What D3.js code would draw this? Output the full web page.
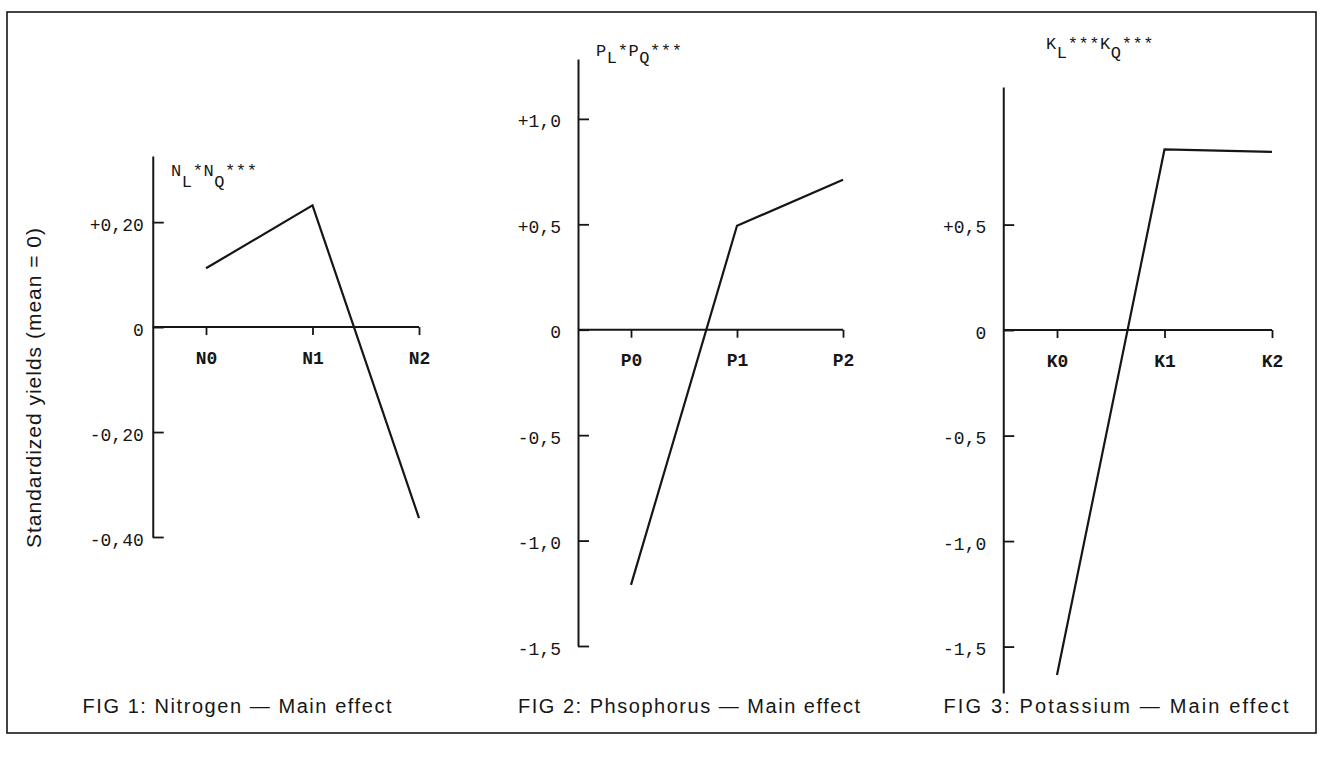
<!DOCTYPE html>
<html>
<head>
<meta charset="utf-8">
<script src="https://cdn.jsdelivr.net/npm/d3@7"></script>
<style>
  html, body { margin: 0; padding: 0; background: #fff; }
  svg { display: block; }
  .tick text { font-family: "Liberation Mono", "DejaVu Sans Mono", monospace; }
</style>
</head>
<body>
<svg id="chart" width="1323" height="758"></svg>
<script>
// ---------- data ----------
const nCategories = ["N0", "N1", "N2"];
const nValues = [0.112, 0.232, -0.364];
const nTickValues = [0.2, 0, -0.2, -0.4];
const nTickLabels = ["+0,20", "0", "-0,20", "-0,40"];

const pCategories = ["P0", "P1", "P2"];
const pValues = [-1.21, 0.493, 0.711];
const pTickValues = [1.0, 0.5, 0, -0.5, -1.0, -1.5];
const pTickLabels = ["+1,0", "+0,5", "0", "-0,5", "-1,0", "-1,5"];

const kCategories = ["K0", "K1", "K2"];
const kValues = [-1.635, 0.856, 0.845];
const kTickValues = [0.5, 0, -0.5, -1.0, -1.5];
const kTickLabels = ["+0,5", "0", "-0,5", "-1,0", "-1,5"];

const titles = ["FIG 1: Nitrogen \u2014 Main effect",
                "FIG 2: Phsophorus \u2014 Main effect",
                "FIG 3: Potassium \u2014 Main effect"];
const yAxisTitle = "Standardized yields (mean = 0)";
// significance annotations: [main, sub, mark, main, sub, mark]
const nNote = ["N", "L", "*", "N", "Q", "***"];
const pNote = ["P", "L", "*", "P", "Q", "***"];
const kNote = ["K", "L", "***", "K", "Q", "***"];

// ---------- layout ----------
const panels = [
  { cats: nCategories, vals: nValues, ticks: nTickValues, labels: nTickLabels, note: nNote,
    yDomain: [-0.40, 0.326], yRange: [537, 156], xFirst: 206, xLast: 419, labelPad: 9,
    noteX: 171, noteY: 176, subShift: 11, title: titles[0], titleX: 237, titleLen: 309 },
  { cats: pCategories, vals: pValues, ticks: pTickValues, labels: pTickLabels, note: pNote,
    yDomain: [-1.5, 1.284], yRange: [646, 59], xFirst: 631, xLast: 843, labelPad: 17,
    noteX: 596, noteY: 56, subShift: 7, title: titles[1], titleX: 689, titleLen: 342 },
  { cats: kCategories, vals: kValues, ticks: kTickValues, labels: kTickLabels, note: kNote,
    yDomain: [-1.72, 1.152], yRange: [693, 87], xFirst: 1057, xLast: 1272, labelPad: 17,
    noteX: 1046, noteY: 49, subShift: 9, title: titles[2], titleX: 1116, titleLen: 345 }
];

const ink = "#161616";
const svg = d3.select("#chart");

// frame
svg.append("rect")
  .attr("x", 7).attr("y", 12).attr("width", 1309).attr("height", 721)
  .attr("fill", "none").attr("stroke", ink).attr("stroke-width", 1.6);

// y-axis title
svg.append("text")
  .attr("transform", "translate(41,388) rotate(-90)")
  .attr("text-anchor", "middle")
  .attr("font-family", "Liberation Sans, Arial, sans-serif")
  .attr("font-size", 21)
  .attr("textLength", 320)
  .attr("lengthAdjust", "spacing")
  .attr("fill", ink)
  .text(yAxisTitle);

panels.forEach(p => {
  const g = svg.append("g");
  const y = d3.scaleLinear().domain(p.yDomain).range(p.yRange);
  const x = d3.scalePoint().domain(p.cats).range([p.xFirst, p.xLast]);
  const step = x.step();
  const axisX = p.xFirst - step / 2;

  // y axis
  const labelOf = new Map(p.ticks.map((t, i) => [t, p.labels[i]]));
  const yAxis = d3.axisLeft(y)
    .tickValues(p.ticks)
    .tickFormat(d => labelOf.get(d))
    .tickSizeInner(-11)
    .tickSizeOuter(0)
    .tickPadding(p.labelPad);
  const ya = g.append("g").attr("transform", `translate(${axisX},0)`).call(yAxis);
  ya.select(".domain").attr("stroke", ink).attr("stroke-width", 2);
  ya.selectAll(".tick line").attr("stroke", ink).attr("stroke-width", 1.8);
  ya.selectAll(".tick text")
    .attr("font-size", 18).attr("fill", ink)
    .attr("dy", "0.45em");

  // x axis (zero line)
  const zeroY = y(0);
  const xAxis = d3.axisBottom(x).tickSizeInner(8).tickSizeOuter(0).tickPadding(16);
  const xa = g.append("g").attr("transform", `translate(0,${zeroY})`).call(xAxis);
  xa.select(".domain").remove();
  xa.selectAll(".tick line").attr("stroke", ink).attr("stroke-width", 1.8);
  xa.selectAll(".tick text").attr("font-size", 18).attr("fill", ink).attr("font-weight", "bold");
  g.append("line")
    .attr("x1", axisX).attr("x2", x(p.cats[p.cats.length - 1]))
    .attr("y1", zeroY).attr("y2", zeroY)
    .attr("stroke", ink).attr("stroke-width", 2);

  // data line
  const line = d3.line().x((d, i) => x(p.cats[i])).y(d => y(d));
  g.append("path")
    .datum(p.vals)
    .attr("d", line)
    .attr("fill", "none")
    .attr("stroke", ink)
    .attr("stroke-width", 2.2)
    .attr("stroke-linejoin", "miter");

  // significance note
  const t = g.append("text")
    .attr("x", p.noteX).attr("y", p.noteY)
    .attr("font-family", "Liberation Mono, DejaVu Sans Mono, monospace")
    .attr("font-size", 17)
    .attr("letter-spacing", 0.6)
    .attr("fill", ink);
  p.note.forEach((s, i) => {
    const isSub = i % 3 === 1;
    const afterSub = i % 3 === 2;
    t.append("tspan")
      .attr("dy", isSub ? p.subShift : (afterSub ? -p.subShift : 0))
      .attr("font-size", 17)
      .text(s);
  });

  // title
  g.append("text")
    .attr("x", p.titleX).attr("y", 713)
    .attr("text-anchor", "middle")
    .attr("font-family", "Liberation Sans, Arial, sans-serif")
    .attr("font-size", 20)
    .attr("textLength", p.titleLen)
    .attr("lengthAdjust", "spacing")
    .attr("fill", ink)
    .text(p.title);
});
</script>
</body>
</html>
